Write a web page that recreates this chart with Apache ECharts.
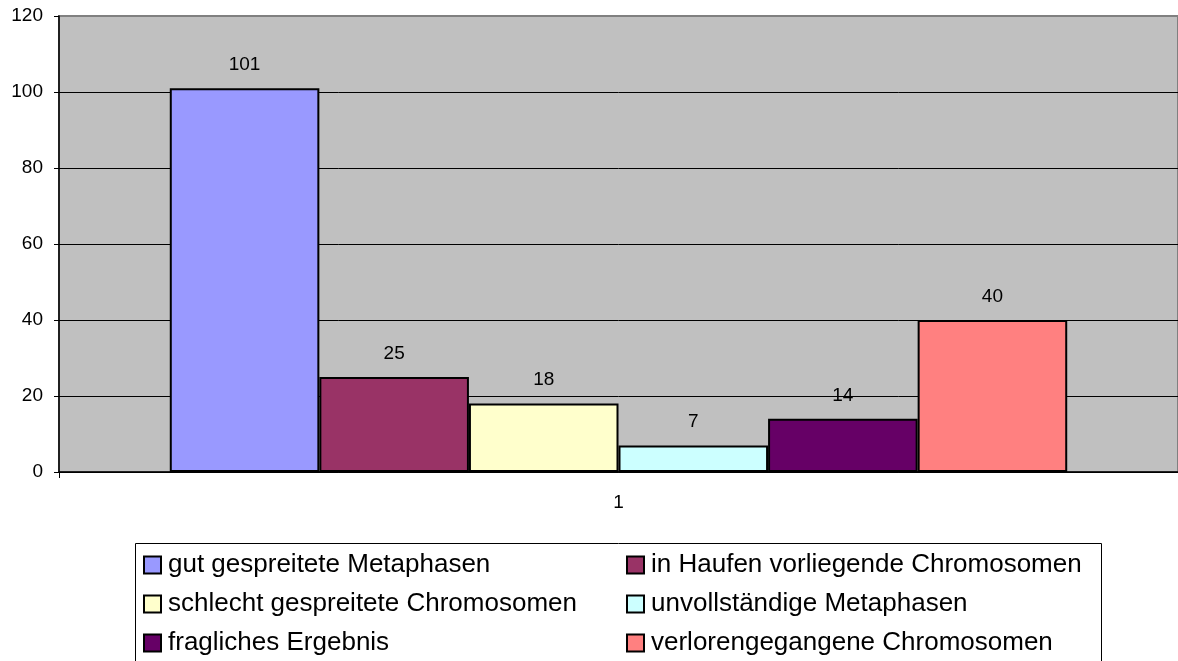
<!DOCTYPE html>
<html>
<head>
<meta charset="utf-8">
<script src="https://cdn.jsdelivr.net/npm/echarts@6/dist/echarts.min.js"></script>
<style>
  html, body { margin: 0; padding: 0; background: #ffffff; }
  #chart { width: 1178px; height: 661px; }
</style>
</head>
<body>
<div id="chart"></div>
<script>
// Daten aus der Vorlage
const categories = ['1']
const seriesNames = [
  'gut gespreitete Metaphasen',
  'in Haufen vorliegende Chromosomen',
  'schlecht gespreitete Chromosomen',
  'unvollständige Metaphasen',
  'fragliches Ergebnis',
  'verlorengegangene Chromosomen'
]
const gutGespreitet = [101]
const inHaufen = [25]
const schlechtGespreitet = [18]
const unvollstaendig = [7]
const fraglich = [14]
const verloren = [40]
const yTicks = { min: 0, max: 120, interval: 20 }

const seriesValues = [gutGespreitet, inHaufen, schlechtGespreitet, unvollstaendig, fraglich, verloren]
const colors = ['#9999FF', '#993366', '#FFFFCC', '#CCFFFF', '#660066', '#FF8080']
const fontFamily = 'Liberation Sans, Arial, sans-serif'

const chart = echarts.init(document.getElementById('chart'))

const legendBase = {
  orient: 'vertical',
  top: 552,
  icon: 'rect',
  itemWidth: 17,
  itemHeight: 17,
  itemGap: 13,
  padding: 0,
  selectedMode: false,
  itemStyle: { borderColor: '#000000', borderWidth: 2 },
  textStyle: { fontFamily: fontFamily, fontSize: 26, lineHeight: 26, color: '#000000', padding: [0, 0, 0, 2] }
}

chart.setOption({
  animation: false,
  color: colors,
  textStyle: { fontFamily: fontFamily },
  grid: {
    left: 59,
    right: 0,
    top: 16,
    bottom: 189,
    show: true,
    backgroundColor: '#C0C0C0',
    borderColor: '#808080',
    borderWidth: 2
  },
  legend: [
    Object.assign({}, legendBase, { left: 143, data: [seriesNames[0], seriesNames[2], seriesNames[4]] }),
    Object.assign({}, legendBase, { left: 626, data: [seriesNames[1], seriesNames[3], seriesNames[5]] })
  ],
  graphic: [{
    type: 'rect',
    shape: { x: 135.5, y: 543.5, width: 966, height: 140 },
    style: { fill: 'none', stroke: '#000000', lineWidth: 1 },
    silent: true
  }],
  xAxis: {
    type: 'category',
    data: categories,
    axisLine: { lineStyle: { color: '#000000', width: 1.5 } },
    axisTick: { show: true, length: 6, lineStyle: { color: '#000000' } },
    axisLabel: { color: '#000000', fontSize: 19, margin: 21 }
  },
  yAxis: {
    type: 'value',
    min: yTicks.min,
    max: yTicks.max,
    interval: yTicks.interval,
    axisLine: { show: true, lineStyle: { color: '#000000', width: 1.5 } },
    axisTick: { show: true, length: 5, lineStyle: { color: '#000000' } },
    axisLabel: { color: '#000000', fontSize: 19, margin: 16 },
    splitLine: { show: true, showMaxLine: false, lineStyle: { color: '#000000', width: 1 } }
  },
  series: seriesNames.map((name, i) => ({
    name: name,
    type: 'bar',
    data: seriesValues[i],
    barGap: '0%',
    barCategoryGap: '19.8%',
    itemStyle: { color: colors[i], borderColor: '#000000', borderWidth: 2 },
    label: {
      show: true,
      position: 'top',
      distance: 14,
      color: '#000000',
      fontSize: 19
    }
  }))
})
</script>
</body>
</html>
